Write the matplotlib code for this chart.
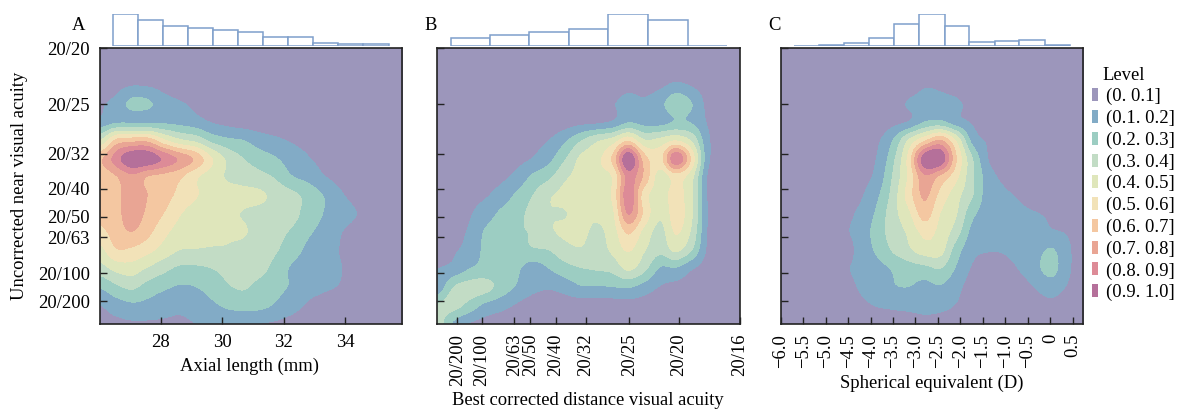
import numpy as np
import matplotlib
matplotlib.use("Agg")
import matplotlib.pyplot as plt
from matplotlib.patches import Patch
from matplotlib.colors import ListedColormap, BoundaryNorm

plt.rcParams['font.family'] = ['Liberation Serif', 'DejaVu Serif']

W, H = 1178, 411
FS = 13.4
level_edges = [0, .1, .2, .3, .4, .5, .6, .7, .8, .9, 1.0]
level_labels = ['(0. 0.1]', '(0.1. 0.2]', '(0.2. 0.3]', '(0.3. 0.4]', '(0.4. 0.5]',
                '(0.5. 0.6]', '(0.6. 0.7]', '(0.7. 0.8]', '(0.8. 0.9]', '(0.9. 1.0]']
level_colors = ['#9c96bb', '#82abc6', '#9ccdc2', '#c2dcc5', '#dfe6bb',
                '#f2e2b8', '#f4c7a1', '#e9a594', '#dd8b97', '#b5709a']

acuity_labels = ['20/20', '20/25', '20/32', '20/40', '20/50', '20/63', '20/100', '20/200']
acuity_y = [1.0, .797, .617, .49, .388, .315, .183, .082]

a_xlim = (26.01, 35.85)
a_ticks = [28, 30, 32, 34]
a_edges = [26.46, 27.27, 28.09, 28.90, 29.71, 30.53, 31.34, 32.15, 32.97, 33.78, 34.59, 35.43]
a_hist = [96, 79, 61, 53, 47, 43, 29, 27, 11, 8, 8]

b_xlim = (0, 1)
b_ticks = [.0661, .1465, .2544, .3073, .3910, .4901, .6344, .7974, 1.0]
b_ticklabels = ['20/200', '20/100', '20/63', '20/50', '20/40', '20/32', '20/25', '20/20', '20/16']
b_edges = [.044, .174, .304, .434, .564, .696, .827, .957]
b_hist = [24, 35, 42, 50, 96, 77, 2]

c_xlim = (-6.0, 0.735)
c_ticks = [-6.0, -5.5, -5.0, -4.5, -4.0, -3.5, -3.0, -2.5, -2.0, -1.5, -1.0, -0.5, 0, 0.5]
c_ticklabels = ['\u22126.0', '\u22125.5', '\u22125.0', '\u22124.5', '\u22124.0', '\u22123.5', '\u22123.0',
                '\u22122.5', '\u22122.0', '\u22121.5', '\u22121.0', '\u22120.5', '0', '0.5']
c_edges = [-5.70, -5.14, -4.59, -4.03, -3.47, -2.92, -2.35, -1.80, -1.24, -0.69, -0.11, 0.45]
c_hist = [2, 3, 9, 26, 67, 96, 61, 12, 15, 20, 3]

# density, top row first, left column first
a_density = [
 [.03]*20,
 [.04]*20,
 [.05,.07,.095,.09,.07,.05,.04,.03,.03,.03,.02,.02,.02,.02,.02,.02,.02,.02,.02,.02],
 [.09,.13,.23,.22,.14,.11,.08,.05,.04,.03,.02,.02,.02,.02,.02,.02,.02,.02,.02,.02],
 [.13,.18,.185,.185,.18,.165,.14,.095,.07,.05,.04,.03,.02,.02,.02,.02,.02,.02,.02,.02],
 [.40,.62,.66,.66,.52,.42,.37,.27,.22,.20,.15,.12,.09,.07,.04,.03,.02,.02,.02,.02],
 [.68,.85,.99,.98,.88,.78,.68,.51,.38,.30,.25,.21,.15,.11,.07,.04,.02,.02,.02,.02],
 [.62,.695,.78,.70,.67,.62,.52,.45,.39,.36,.33,.29,.21,.17,.11,.07,.04,.02,.02,.02],
 [.60,.66,.77,.70,.65,.57,.51,.46,.44,.43,.42,.37,.33,.27,.20,.12,.07,.02,.02,.02],
 [.63,.67,.75,.68,.60,.51,.46,.44,.42,.395,.37,.36,.34,.26,.20,.15,.105,.06,.02,.02],
 [.57,.65,.70,.63,.53,.46,.43,.42,.41,.41,.36,.33,.29,.22,.17,.11,.07,.02,.02,.02],
 [.47,.59,.58,.53,.46,.40,.395,.39,.39,.37,.34,.31,.25,.18,.14,.10,.07,.02,.02,.02],
 [.36,.43,.45,.39,.33,.28,.28,.30,.33,.35,.33,.27,.19,.15,.12,.105,.07,.02,.02,.02],
 [.21,.28,.32,.26,.22,.19,.20,.24,.29,.31,.27,.23,.19,.14,.115,.095,.06,.02,.02,.02],
 [.10,.15,.18,.17,.14,.12,.14,.18,.22,.24,.23,.19,.14,.09,.06,.04,.03,.02,.02,.02],
 [.07,.08,.09,.09,.09,.09,.10,.11,.12,.11,.10,.09,.07,.05,.04,.03,.02,.02,.02,.02],
]

b_density = [
 [.02]*20,
 [.03]*20,
 [.02,.02,.02,.02,.02,.02,.02,.02,.02,.02,.03,.05,.07,.06,.08,.12,.09,.05,.02,.02],
 [.02,.02,.02,.02,.02,.02,.02,.02,.03,.04,.06,.09,.14,.12,.17,.28,.20,.07,.02,.02],
 [.02,.02,.02,.02,.02,.02,.02,.03,.05,.07,.08,.11,.19,.16,.16,.21,.19,.09,.03,.02],
 [.02,.02,.02,.02,.03,.05,.07,.10,.18,.29,.38,.44,.58,.41,.43,.49,.38,.12,.05,.02],
 [.02,.02,.02,.03,.05,.07,.105,.17,.29,.42,.47,.62,1.0,.65,.57,.89,.57,.13,.05,.02],
 [.02,.03,.05,.07,.08,.13,.22,.28,.38,.44,.47,.51,.84,.68,.45,.55,.43,.09,.04,.02],
 [.03,.05,.07,.09,.14,.22,.30,.385,.43,.50,.44,.52,.87,.55,.46,.54,.41,.09,.03,.02],
 [.04,.06,.09,.15,.22,.27,.33,.39,.395,.44,.42,.48,.81,.58,.42,.55,.41,.10,.03,.02],
 [.05,.08,.11,.21,.25,.29,.31,.38,.42,.43,.38,.45,.62,.47,.37,.51,.38,.09,.03,.02],
 [.06,.09,.13,.22,.24,.27,.29,.30,.36,.39,.35,.42,.51,.41,.33,.42,.30,.08,.02,.02],
 [.10,.13,.20,.23,.24,.22,.15,.20,.26,.295,.31,.33,.42,.33,.19,.19,.11,.05,.02,.02],
 [.13,.30,.34,.34,.26,.19,.13,.11,.14,.19,.19,.20,.21,.16,.095,.07,.05,.02,.02,.02],
 [.32,.34,.27,.18,.14,.09,.05,.05,.05,.05,.05,.05,.06,.05,.03,.03,.03,.02,.02,.02],
 [.36,.19,.10,.07,.04,.02,.02,.02,.02,.02,.02,.02,.02,.02,.02,.02,.02,.02,.02,.02],
]

c_density = [
 [.02]*20,
 [.03]*20,
 [.03,.03,.03,.03,.03,.03,.03,.03,.05,.09,.08,.05,.03,.03,.03,.03,.03,.03,.03,.03],
 [.02,.02,.02,.02,.02,.02,.02,.05,.11,.14,.14,.12,.06,.02,.02,.02,.02,.02,.02,.02],
 [.02,.02,.02,.02,.02,.02,.03,.07,.105,.20,.22,.14,.09,.04,.02,.02,.02,.02,.02,.02],
 [.02,.02,.02,.02,.02,.03,.08,.20,.41,.58,.70,.49,.17,.085,.03,.02,.02,.02,.02,.02],
 [.02,.02,.02,.02,.03,.06,.105,.27,.54,.97,.99,.61,.31,.10,.03,.02,.02,.02,.02,.02],
 [.02,.02,.02,.03,.05,.07,.13,.31,.52,.78,.68,.53,.32,.15,.075,.03,.02,.02,.02,.02],
 [.02,.02,.02,.03,.06,.09,.18,.34,.55,.72,.57,.44,.31,.15,.12,.085,.04,.02,.02,.02],
 [.02,.02,.02,.04,.08,.12,.22,.36,.48,.65,.50,.41,.23,.15,.14,.12,.105,.08,.05,.02],
 [.02,.02,.02,.04,.09,.13,.25,.34,.42,.53,.47,.35,.17,.13,.13,.12,.13,.11,.09,.03],
 [.02,.02,.03,.05,.07,.13,.22,.31,.38,.45,.44,.25,.13,.105,.11,.14,.17,.21,.12,.03],
 [.02,.02,.03,.05,.09,.12,.16,.21,.25,.27,.30,.19,.09,.05,.06,.11,.18,.23,.12,.03],
 [.02,.02,.03,.04,.07,.11,.14,.19,.20,.17,.19,.13,.06,.04,.03,.05,.11,.15,.09,.03],
 [.02,.02,.02,.03,.05,.08,.105,.12,.13,.135,.13,.095,.05,.03,.02,.02,.05,.07,.03,.02],
 [.02,.02,.02,.02,.02,.03,.03,.04,.05,.07,.06,.04,.03,.02,.02,.02,.02,.02,.02,.02],
]

fig = plt.figure(figsize=(W / 100, H / 100), dpi=100, facecolor='white')
cmap = ListedColormap(level_colors)
norm = BoundaryNorm(level_edges, cmap.N, clip=True)


def box(l, t, r, b):
    return [l / W, 1 - b / H, (r - l) / W, (b - t) / H]


def panel(left, right, xlim, density, edges, hist, xticks, xlabels, rot, letter, letter_x):
    ax = fig.add_axes(box(left, 48, right, 324))
    ax.set_facecolor(level_colors[0])
    grid = np.array(density)
    dx = (xlim[1] - xlim[0]) / (grid.shape[1] - 1) / 2
    dy = 1 / (grid.shape[0] - 1) / 2
    ax.imshow(grid, cmap=cmap, norm=norm, interpolation='catrom', interpolation_stage='data',
              extent=(xlim[0] - dx, xlim[1] + dx, -dy, 1 + dy), aspect='auto', origin='upper')
    ax.set_xlim(*xlim)
    ax.set_ylim(0, 1)
    ax.set_yticks(acuity_y)
    ax.set_yticklabels([])
    ax.set_xticks(xticks)
    ax.set_xticklabels(xlabels, rotation=rot, fontsize=FS, ha='center', va='top')
    ax.tick_params(direction='in', length=4.8, width=1, colors='#222222', pad=7, labelcolor='black')
    for s in ax.spines.values():
        s.set_linewidth(1.2)
        s.set_color('#222222')
    hx = fig.add_axes(box(left, 14, right, 46.3))
    hx.bar(edges[:-1], hist, width=np.diff(edges), align='edge',
           facecolor='white', edgecolor='#7f9fcb', linewidth=1.1)
    hx.set_xlim(*xlim)
    hx.set_ylim(0, 96)
    hx.axis('off')
    fig.text(letter_x / W, 1 - 25 / H, letter, fontsize=FS, ha='center', va='center')
    return ax


ax_a = panel(99.5, 402, a_xlim, a_density, a_edges, a_hist, a_ticks,
             [str(t) for t in a_ticks], 0, 'A', 79)
ax_b = panel(437.3, 740, b_xlim, b_density, b_edges, b_hist, b_ticks, b_ticklabels, 90, 'B', 431)
ax_c = panel(780.7, 1083.3, c_xlim, c_density, c_edges, c_hist, c_ticks, c_ticklabels, 90, 'C', 774)

ax_a.set_yticklabels(acuity_labels, fontsize=FS)

fig.text(250 / W, 1 - 366 / H, 'Axial length (mm)', fontsize=FS, ha='center', va='center')
fig.text(588 / W, 1 - 400 / H, 'Best corrected distance visual acuity', fontsize=FS, ha='center', va='center')
fig.text(932 / W, 1 - 383 / H, 'Spherical equivalent (D)', fontsize=FS, ha='center', va='center')
fig.text(20 / W, 1 - 186 / H, 'Uncorrected near visual acuity', fontsize=FS, rotation=90, ha='center', va='center')

fig.text(1102 / W, 1 - 75 / H, 'Level', fontsize=FS, ha='left', va='center')
handles = [Patch(facecolor=c, edgecolor='none', label=l) for c, l in zip(level_colors, level_labels)]
fig.legend(handles=handles, loc='upper left', bbox_to_anchor=(1091.5 / W, 1 - 88 / H),
           frameon=False, fontsize=FS, borderpad=0, borderaxespad=0, handlelength=.37,
           handleheight=.7, handletextpad=.42, labelspacing=.24)

fig.savefig('out.png', dpi=100, facecolor='white')
